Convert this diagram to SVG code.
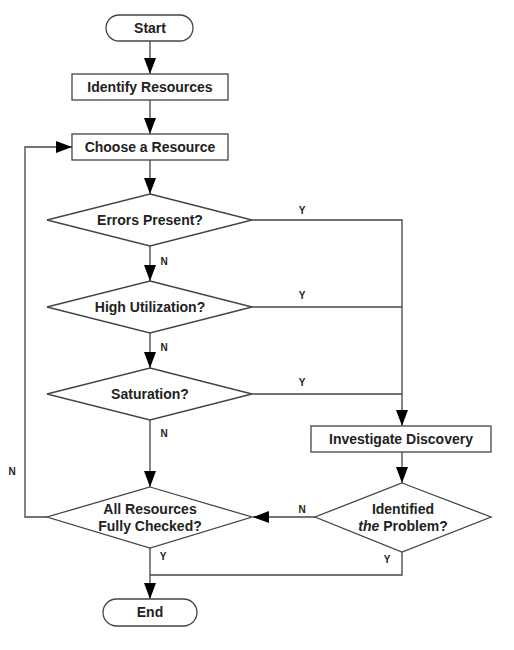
<svg xmlns="http://www.w3.org/2000/svg" width="514" height="650" viewBox="0 0 514 650">
<style>
.s{fill:#fff;stroke:#444;stroke-width:1.3}
.c{fill:none;stroke:#444;stroke-width:1.3}
.t{font-family:"Liberation Sans",Arial,sans-serif;font-weight:bold;font-size:14px;fill:#222;text-anchor:middle}
.l{font-family:"Liberation Sans",Arial,sans-serif;font-weight:bold;font-size:10px;fill:#222;text-anchor:middle}
</style>
<defs>
<marker id="ah" markerUnits="userSpaceOnUse" markerWidth="16" markerHeight="12" refX="16" refY="6" orient="auto">
<path d="M0,0 L16,6 L0,12 z" fill="#000"/>
</marker>
</defs>
<rect width="514" height="650" fill="#fff"/>
<g id="connectors">
<path class="c" d="M150,41 V74" marker-end="url(#ah)"/>
<path class="c" d="M150,100 V134" marker-end="url(#ah)"/>
<path class="c" d="M150,160 V194" marker-end="url(#ah)"/>
<path class="c" d="M150,246 V281" marker-end="url(#ah)"/>
<path class="c" d="M150,333 V368" marker-end="url(#ah)"/>
<path class="c" d="M150,420 V487" marker-end="url(#ah)"/>
<path class="c" d="M252,220 H402 V426" marker-end="url(#ah)"/>
<path class="c" d="M252,307 H402"/>
<path class="c" d="M252,394 H402"/>
<path class="c" d="M402,452 V483" marker-end="url(#ah)"/>
<path class="c" d="M315,517 H253" marker-end="url(#ah)"/>
<path class="c" d="M47,517 H25 V147 H72" marker-end="url(#ah)"/>
<path class="c" d="M402,552 V575 H150"/>
<path class="c" d="M150,548 V599" marker-end="url(#ah)"/>
<text class="l" x="302" y="214">Y</text>
<text class="l" x="302" y="299">Y</text>
<text class="l" x="302" y="386">Y</text>
<text class="l" x="164" y="265">N</text>
<text class="l" x="164" y="351">N</text>
<text class="l" x="164" y="437">N</text>
<text class="l" x="12" y="475">N</text>
<text class="l" x="302" y="513">N</text>
<text class="l" x="163" y="560">Y</text>
<text class="l" x="387" y="563">Y</text>
</g>
<g id="start">
<rect class="s" x="106" y="15" width="87" height="26" rx="13"/>
<text class="t" x="150" y="33">Start</text>
</g>
<g id="identify">
<rect class="s" x="72" y="74" width="156" height="26"/>
<text class="t" x="150" y="92">Identify Resources</text>
</g>
<g id="choose">
<rect class="s" x="72" y="134" width="156" height="26"/>
<text class="t" x="150" y="152">Choose a Resource</text>
</g>
<g id="errors">
<polygon class="s" points="150,194 252,220 150,246 47,220"/>
<text class="t" x="150" y="225">Errors Present?</text>
</g>
<g id="utilization">
<polygon class="s" points="150,281 252,307 150,333 47,307"/>
<text class="t" x="150" y="312">High Utilization?</text>
</g>
<g id="saturation">
<polygon class="s" points="150,368 252,394 150,420 47,394"/>
<text class="t" x="150" y="399">Saturation?</text>
</g>
<g id="investigate">
<rect class="s" x="311" y="426" width="180" height="26"/>
<text class="t" x="401" y="444">Investigate Discovery</text>
</g>
<g id="identified">
<polygon class="s" points="402,483 491,517 402,552 315,517"/>
<text class="t" x="403" y="514">Identified</text>
<text class="t" x="403" y="531"><tspan font-style="italic">the</tspan> Problem?</text>
</g>
<g id="allchecked">
<polygon class="s" points="150,487 252,517 150,548 47,517"/>
<text class="t" x="150" y="514">All Resources</text>
<text class="t" x="150" y="531">Fully Checked?</text>
</g>
<g id="end">
<rect class="s" x="103" y="599" width="94" height="27" rx="13.5"/>
<text class="t" x="150" y="617">End</text>
</g>
</svg>
